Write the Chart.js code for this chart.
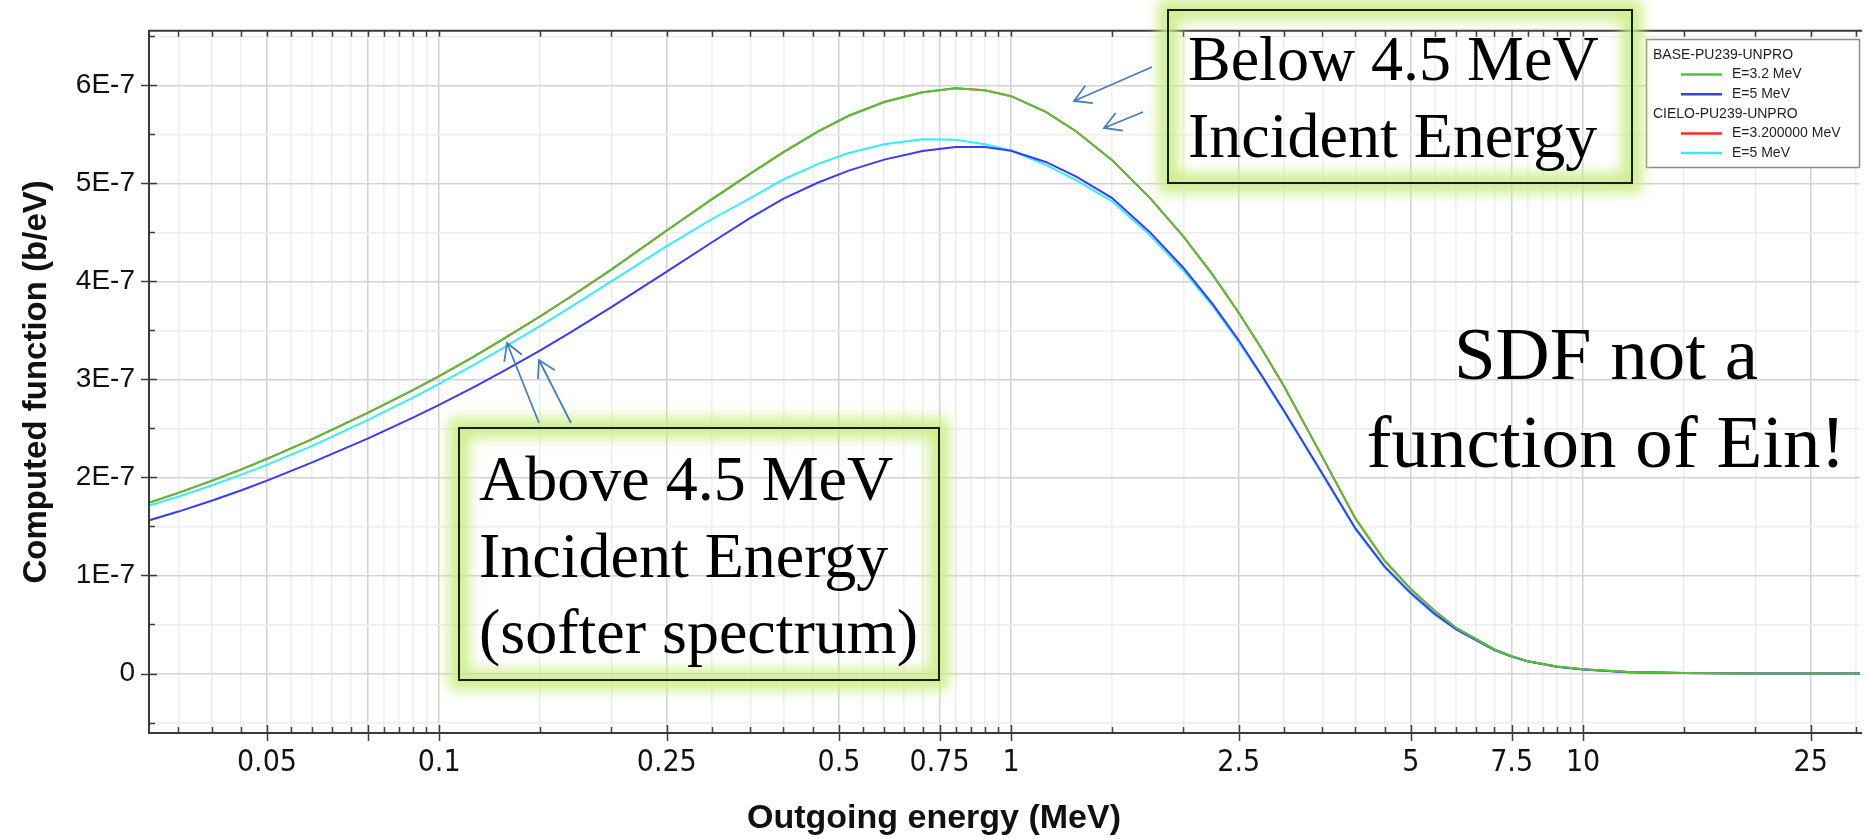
<!DOCTYPE html>
<html><head><meta charset="utf-8">
<script src="https://cdn.jsdelivr.net/npm/chart.js@4.4.1/dist/chart.umd.min.js"></script>
<style>html,body{margin:0;padding:0;background:#fff;overflow:hidden}#wrap{width:1868px;height:839px;position:relative}</style>
</head><body><div id="wrap"><canvas id="c"></canvas></div>
<script>
// ---- data (outgoing energy in MeV, computed function in b/eV) ----
const energies = [0.031,0.035,0.04,0.045,0.05,0.06,0.075,0.09,0.1,0.115,0.13,0.15,0.17,0.2,0.25,0.3,0.35,0.4,0.46,0.52,0.6,0.7,0.8,0.9,1.0,1.15,1.3,1.5,1.75,2.0,2.25,2.5,2.75,3.0,3.5,4.0,4.5,5.0,5.5,6.0,7.0,7.5,8.0,9.0,10,12,15,20,25,30.5];
const base32 = [1.74e-7,1.843e-7,1.965e-7,2.08e-7,2.19e-7,2.392e-7,2.658e-7,2.892e-7,3.034e-7,3.234e-7,3.418e-7,3.642e-7,3.846e-7,4.121e-7,4.52e-7,4.84e-7,5.10e-7,5.32e-7,5.53e-7,5.69e-7,5.83e-7,5.93e-7,5.97e-7,5.95e-7,5.89e-7,5.73e-7,5.53e-7,5.24e-7,4.85e-7,4.46e-7,4.07e-7,3.68e-7,3.30e-7,2.93e-7,2.21e-7,1.58e-7,1.15e-7,0.86e-7,0.64e-7,0.465e-7,0.245e-7,0.176e-7,0.126e-7,0.072e-7,0.044e-7,0.015e-7,0.004e-7,0.0005e-7,0.0001e-7,0];
const base5 = [1.56e-7,1.652e-7,1.762e-7,1.867e-7,1.968e-7,2.154e-7,2.396e-7,2.61e-7,2.74e-7,2.922e-7,3.09e-7,3.295e-7,3.483e-7,3.737e-7,4.10e-7,4.40e-7,4.648e-7,4.845e-7,5.009e-7,5.131e-7,5.243e-7,5.33e-7,5.371e-7,5.371e-7,5.334e-7,5.219e-7,5.07e-7,4.853e-7,4.50e-7,4.14e-7,3.77e-7,3.40e-7,3.03e-7,2.68e-7,2.04e-7,1.48e-7,1.09e-7,0.82e-7,0.61e-7,0.45e-7,0.24e-7,0.173e-7,0.124e-7,0.07e-7,0.042e-7,0.013e-7,0.004e-7,0.0005e-7,0.0001e-7,0];
const cielo32 = [1.74e-7,1.843e-7,1.965e-7,2.08e-7,2.19e-7,2.392e-7,2.658e-7,2.892e-7,3.034e-7,3.234e-7,3.418e-7,3.642e-7,3.846e-7,4.121e-7,4.52e-7,4.84e-7,5.10e-7,5.32e-7,5.53e-7,5.69e-7,5.83e-7,5.93e-7,5.97e-7,5.95e-7,5.89e-7,5.73e-7,5.53e-7,5.24e-7,4.85e-7,4.46e-7,4.07e-7,3.68e-7,3.30e-7,2.93e-7,2.21e-7,1.58e-7,1.15e-7,0.86e-7,0.64e-7,0.465e-7,0.245e-7,0.176e-7,0.126e-7,0.072e-7,0.044e-7,0.015e-7,0.004e-7,0.0005e-7,0.0001e-7,0];
const cielo5 = [1.71e-7,1.805e-7,1.918e-7,2.026e-7,2.129e-7,2.323e-7,2.585e-7,2.815e-7,2.955e-7,3.149e-7,3.327e-7,3.544e-7,3.74e-7,4.0e-7,4.36e-7,4.637e-7,4.851e-7,5.04e-7,5.20e-7,5.31e-7,5.40e-7,5.45e-7,5.445e-7,5.40e-7,5.335e-7,5.19e-7,5.03e-7,4.82e-7,4.47e-7,4.11e-7,3.75e-7,3.38e-7,3.02e-7,2.67e-7,2.03e-7,1.47e-7,1.08e-7,0.81e-7,0.60e-7,0.45e-7,0.24e-7,0.173e-7,0.124e-7,0.07e-7,0.042e-7,0.013e-7,0.004e-7,0.0005e-7,0.0001e-7,0];

const seriesLabels = ['E=3.2 MeV','E=5 MeV','E=3.200000 MeV','E=5 MeV'];
const groupLabels = ['BASE-PU239-UNPRO','CIELO-PU239-UNPRO'];
const groupMembers = [[0,1],[2,3]];

// ---- axis ticks ----
const xTickValues = [0.035,0.04,0.045,0.05,0.055,0.06,0.065,0.07,0.075,0.08,0.085,0.09,0.095,0.1,0.15,0.2,0.25,0.3,0.35,0.4,0.45,0.5,0.55,0.6,0.65,0.7,0.75,0.8,0.85,0.9,0.95,1,1.5,2,2.5,3,3.5,4,4.5,5,5.5,6,6.5,7,7.5,8,8.5,9,9.5,10,15,20,25,30];
const xMajorValues = [0.05,0.075,0.1,0.25,0.5,0.75,1,2.5,5,7.5,10,25];
const xLabelValues = [0.05,0.1,0.25,0.5,0.75,1,2.5,5,7.5,10,25];
const yTickValues = [-0.5e-7,0,0.5e-7,1e-7,1.5e-7,2e-7,2.5e-7,3e-7,3.5e-7,4e-7,4.5e-7,5e-7,5.5e-7,6e-7,6.5e-7];

// ---- styles ----
const lineColors = ['#4fc636','#3a3aff','#ff2a2a','#33eef5'];
const SANS = "'Liberation Sans', Arial, sans-serif";
const NARROW = "'Liberation Sans Narrow', 'DejaVu Sans Condensed', 'Liberation Sans', sans-serif";
const SERIF = "'Liberation Serif', 'Times New Roman', serif";
const MAJOR_GRID = '#d3d3d3', MINOR_GRID = '#eeeeee';

const near = (a, b) => Math.abs(a - b) <= Math.abs(b) * 1e-6 + 1e-15;
const isXMajor = v => xMajorValues.some(m => near(v, m));
const isXLabel = v => xLabelValues.some(m => near(v, m));
const isYMajor = v => Math.abs(v / 1e-7 - Math.round(v / 1e-7)) < 1e-6;

const seriesValues = [base32, base5, cielo32, cielo5];
const datasets = seriesValues.map((vals, i) => ({
  label: seriesLabels[i],
  data: energies.map((e, k) => ({x: e, y: vals[k]})),
  borderColor: lineColors[i],
  backgroundColor: lineColors[i],
  borderWidth: 2,
  pointRadius: 0,
  tension: 0,
  fill: false
}));

function arrow(ctx, x1, y1, x2, y2) {
  const ang = Math.atan2(y1 - y2, x1 - x2), L = 19, w = Math.PI / 6;
  ctx.beginPath();
  ctx.moveTo(x1, y1); ctx.lineTo(x2, y2);
  ctx.moveTo(x2 + L * Math.cos(ang - w), y2 + L * Math.sin(ang - w));
  ctx.lineTo(x2, y2);
  ctx.lineTo(x2 + L * Math.cos(ang + w), y2 + L * Math.sin(ang + w));
  ctx.stroke();
}
function glowBox(ctx, x, y, w, h) {
  ctx.save();
  ctx.filter = 'blur(7px)';
  ctx.strokeStyle = 'rgba(200,236,125,0.9)';
  ctx.lineWidth = 20;
  ctx.strokeRect(x, y, w, h);
  ctx.restore();
  ctx.save();
  ctx.strokeStyle = '#1c1c1c';
  ctx.lineWidth = 2;
  ctx.strokeRect(x, y, w, h);
  ctx.restore();
}

const decor = {
  id: 'decor',
  afterDatasetsDraw(chart) {
    const {ctx, chartArea: a, scales: {x, y}} = chart;
    ctx.save();
    ctx.strokeStyle = '#3c3c3c';
    ctx.lineWidth = 1.5;
    ctx.beginPath();
    for (const v of xTickValues) {
      const px = Math.round(x.getPixelForValue(v)) + 0.5;
      if (px < a.left || px > a.right + 1) continue;
      const major = isXMajor(v);
      const L = major ? 8 : 6;
      ctx.moveTo(px, a.bottom + (major ? 8 : 0)); ctx.lineTo(px, a.bottom - L);
      ctx.moveTo(px, a.top); ctx.lineTo(px, a.top + 6);
    }
    for (const v of yTickValues) {
      const py = Math.round(y.getPixelForValue(v)) + 0.5;
      const major = isYMajor(v);
      ctx.moveTo(a.left - (major ? 8 : 0), py); ctx.lineTo(a.left + (major ? 8 : 6), py);
    }
    ctx.stroke();
    ctx.lineWidth = 2;
    ctx.strokeStyle = '#3a3a3a';
    ctx.beginPath();
    ctx.moveTo(a.right + 2, a.top); ctx.lineTo(a.left, a.top); ctx.lineTo(a.left, a.bottom); ctx.lineTo(a.right + 2, a.bottom);
    ctx.stroke();
    ctx.restore();
  },
  afterDraw(chart) {
    const ctx = chart.ctx;
    // legend
    ctx.save();
    const lx = 1646, ly = 39, lw = 213, lh = 128;
    ctx.fillStyle = '#ffffff'; ctx.fillRect(lx, ly, lw, lh);
    ctx.strokeStyle = '#8c8c8c'; ctx.lineWidth = 1.5; ctx.strokeRect(lx + 0.5, ly + 0.5, lw, lh);
    ctx.font = '14px ' + SANS; ctx.textBaseline = 'middle'; ctx.textAlign = 'left';
    let row = 0;
    groupLabels.forEach((g, gi) => {
      const ry = 55 + row * 19.6; row++;
      ctx.fillStyle = '#1e1e1e'; ctx.fillText(g, 1653, ry);
      groupMembers[gi].forEach(di => {
        const iy = 55 + row * 19.6; row++;
        const ds = chart.data.datasets[di];
        ctx.strokeStyle = ds.borderColor; ctx.lineWidth = 2.5;
        ctx.beginPath(); ctx.moveTo(1681, iy); ctx.lineTo(1722, iy); ctx.stroke();
        ctx.fillStyle = '#1e1e1e'; ctx.fillText(ds.label, 1732, iy);
      });
    });
    ctx.restore();

    // annotation boxes
    glowBox(ctx, 1168, 10, 464, 173);
    glowBox(ctx, 459, 428, 480, 252);
    ctx.save();
    ctx.fillStyle = '#000';
    ctx.textBaseline = 'alphabetic';
    ctx.textAlign = 'left';
    ctx.font = '64px ' + SERIF;
    ctx.fillText('Below 4.5 MeV', 1188, 80);
    ctx.fillText('Incident Energy', 1188, 157);
    ctx.fillText('Above 4.5 MeV', 479, 500);
    ctx.fillText('Incident Energy', 479, 577);
    ctx.fillText('(softer spectrum)', 479, 653);
    ctx.font = '75px ' + SERIF;
    ctx.textAlign = 'center';
    ctx.fillText('SDF not a', 1606, 379);
    ctx.fillText('function of Ein!', 1606, 467);
    ctx.restore();

    // arrows
    ctx.save();
    ctx.strokeStyle = '#4a7ebb';
    ctx.lineWidth = 1.8;
    arrow(ctx, 1152, 67, 1074, 101);
    arrow(ctx, 1143, 112, 1104, 128);
    arrow(ctx, 539, 423, 507, 343);
    arrow(ctx, 571, 423, 539, 360);
    ctx.restore();
  }
};

new Chart(document.getElementById('c'), {
  type: 'line',
  data: {datasets},
  plugins: [decor],
  options: {
    responsive: true,
    maintainAspectRatio: false,
    animation: false,
    layout: {padding: {top: 25, left: 0, right: 0, bottom: 0}},
    plugins: {
      legend: {display: false},
      tooltip: {enabled: false},
      title: {display: true, position: 'bottom', text: 'Outgoing energy (MeV)', color: '#111',
        font: {family: SANS, size: 34, weight: 'bold'}, padding: {top: 0, bottom: 0}}
    },
    scales: {
      x: {
        type: 'logarithmic',
        min: 0.0311, max: 30.5,
        afterBuildTicks: s => { s.ticks = xTickValues.map(v => ({value: v, major: isXMajor(v)})); },
        afterFit: s => { s.height = 65.2; },
        grid: {
          drawTicks: false,
          color: c => (c.tick && isXMajor(c.tick.value)) ? MAJOR_GRID : MINOR_GRID,
          lineWidth: 1.5
        },
        border: {display: false},
        ticks: {
          autoSkip: false, maxRotation: 0, padding: 12,
          color: '#111', font: {family: NARROW, size: 30},
          callback: (v) => isXLabel(v) ? String(v) : ''
        }
      },
      y: {
        type: 'linear',
        min: -0.607e-7, max: 6.557e-7,
        afterBuildTicks: s => { s.ticks = yTickValues.map(v => ({value: v})); },
        afterFit: s => { s.width = 149; },
        grid: {
          drawTicks: false,
          color: c => (c.tick && isYMajor(c.tick.value)) ? MAJOR_GRID : MINOR_GRID,
          lineWidth: 1.5
        },
        border: {display: false},
        ticks: {
          padding: 14, color: '#111', font: {family: SANS, size: 28},
          callback: (v) => {
            if (!isYMajor(v)) return '';
            const n = Math.round(v / 1e-7);
            return n === 0 ? '0' : n + 'E-7';
          }
        },
        title: {display: true, text: 'Computed function (b/eV)', color: '#111',
          font: {family: SANS, size: 33, weight: 'bold'}, padding: {top: 17, bottom: 0}}
      }
    }
  }
});
</script>
</body></html>
